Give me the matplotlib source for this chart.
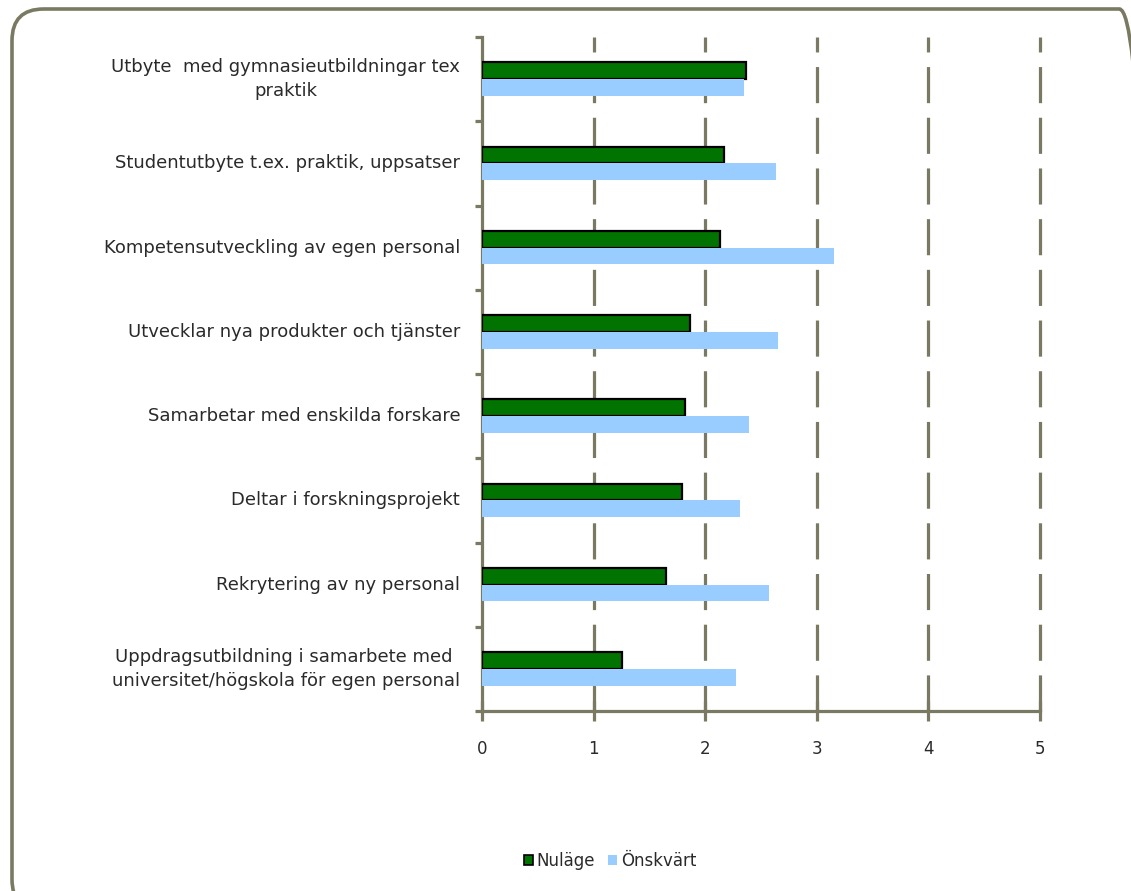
import matplotlib
matplotlib.use("Agg")
import matplotlib.pyplot as plt
from matplotlib.patches import FancyBboxPatch, Patch
import numpy as np

plt.rcParams['lines.scale_dashes'] = False
plt.rcParams['font.family'] = ['DejaVu Sans']

categories = [
    "Utbyte  med gymnasieutbildningar tex\npraktik",
    "Studentutbyte t.ex. praktik, uppsatser",
    "Kompetensutveckling av egen personal",
    "Utvecklar nya produkter och tjänster",
    "Samarbetar med enskilda forskare",
    "Deltar i forskningsprojekt",
    "Rekrytering av ny personal",
    "Uppdragsutbildning i samarbete med \nuniversitet/högskola för egen personal",
]
nulage = [2.37, 2.17, 2.13, 1.86, 1.82, 1.79, 1.65, 1.25]
onskvart = [2.35, 2.63, 3.15, 2.65, 2.39, 2.31, 2.57, 2.28]
xticks = [0, 1, 2, 3, 4, 5]

W, H = 1131, 891
fig = plt.figure(figsize=(W / 100, H / 100), dpi=100)
fig.patch.set_facecolor('white')

gray = '#7a7a62'
green = '#007300'
blue = '#99ccff'
textc = '#2a2a2a'

# rounded border
border = FancyBboxPatch((12 / W, -20 / H), (W + 20 - 12) / W, (H - 9 + 20) / H,
                        boxstyle="round,pad=0,rounding_size=0.028",
                        transform=fig.transFigure, fill=False,
                        edgecolor=gray, linewidth=2.6, zorder=0,
                        mutation_aspect=W / H)
fig.patches.append(border)

ax = fig.add_axes([482 / W, 1 - 711 / H, (1040 - 482) / W, (711 - 37) / H])
n = len(categories)
y = np.arange(n)
h = 0.2
ax.barh(y - h / 2, nulage, height=h, color=green, edgecolor='black', linewidth=1.6, zorder=3, label='Nuläge')
ax.barh(y + h / 2, onskvart, height=h, color=blue, edgecolor='none', zorder=3, label='Önskvärt')

ax.set_ylim(n - 0.5, -0.5)
ax.set_xlim(0, 5)
ax.set_xticks(xticks)
ax.set_xticklabels([str(v) for v in xticks])
ax.set_yticks(np.arange(n + 1) - 0.5, minor=False)
ax.set_yticklabels([])
for yi, lab in zip(y, categories):
    ax.text(-0.195, yi, lab, ha='right', va='center', multialignment='center',
            fontsize=13, color=textc, transform=ax.transData, linespacing=1.4)

for xv in xticks[1:]:
    ax.axvline(xv, color=gray, linewidth=2.3, linestyle=(0, (26, 10.5)), zorder=1, clip_on=False)

for s in ['top', 'right']:
    ax.spines[s].set_visible(False)
for s in ['left', 'bottom']:
    ax.spines[s].set_color(gray)
    ax.spines[s].set_linewidth(2.3)
ax.tick_params(axis='y', length=5, width=2.3, color=gray, direction='out')
ax.tick_params(axis='x', length=14, width=2.3, color=gray, direction='inout',
               labelsize=12, labelcolor=textc, pad=14)

handles = [Patch(facecolor=green, edgecolor='black', linewidth=1.2, label='Nuläge'),
           Patch(facecolor=blue, edgecolor='none', label='Önskvärt')]
fig.legend(handles=handles, loc='center', bbox_to_anchor=(610 / W, 1 - 861 / H),
           ncol=2, frameon=False, fontsize=12, handlelength=0.55, handleheight=0.55,
           handletextpad=0.2, columnspacing=0.8, labelcolor=textc)

fig.savefig('out.png', dpi=100)
